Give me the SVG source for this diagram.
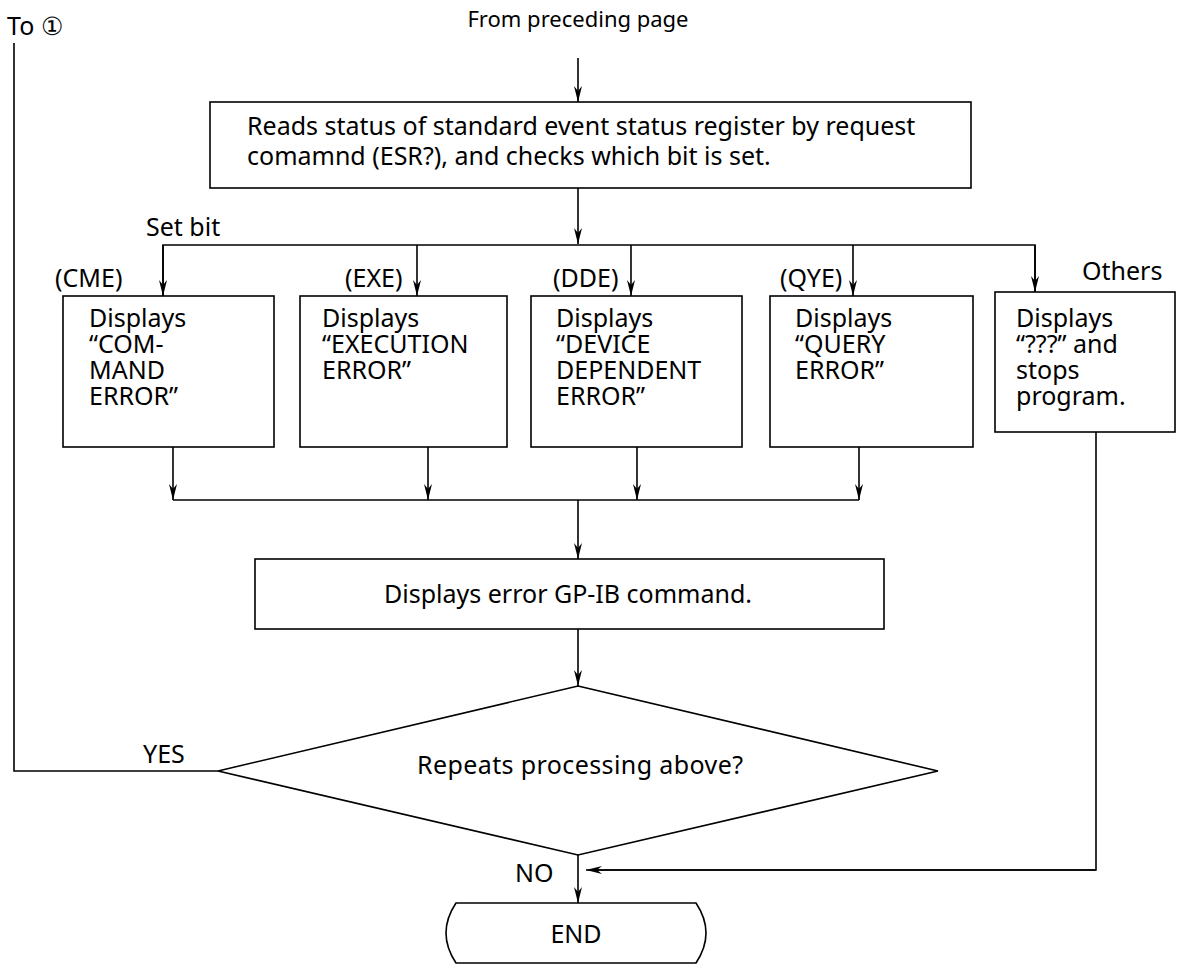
<svg xmlns="http://www.w3.org/2000/svg" width="1202" height="969" viewBox="0 0 1202 969">
<defs>
<style>
text{font-family:"Noto Sans","Open Sans",sans-serif;font-size:25px;fill:#000}
.s{font-size:22px}
.b{fill:#fff;stroke:#000;stroke-width:1.6}
.c{fill:none;stroke:#000;stroke-width:1.6}
</style>
<marker id="a" viewBox="0 0 16 8" refX="16" refY="4" markerWidth="16" markerHeight="8" markerUnits="userSpaceOnUse" orient="auto">
<path d="M0,0 L16,4 L0,8 L5,4 Z" fill="#000"/>
</marker>
</defs>
<rect width="1202" height="969" fill="#fff"/>
<g id="labels">
<text x="7" y="35">To ①</text>
<text class="s" x="578" y="27" text-anchor="middle">From preceding page</text>
<text x="146" y="236">Set bit</text>
<text x="55" y="287">(CME)</text>
<text x="345" y="287">(EXE)</text>
<text x="553" y="287">(DDE)</text>
<text x="780" y="287">(QYE)</text>
<text x="1082" y="280">Others</text>
<text x="143" y="763">YES</text>
<text x="515" y="882">NO</text>
</g>
<g id="connectors" class="c">
<line x1="578" y1="58" x2="578" y2="102" marker-end="url(#a)"/>
<line x1="578" y1="188" x2="578" y2="244" marker-end="url(#a)"/>
<polyline points="163,296 163,245 1035,245 1035,292"/>
<line x1="163" y1="245" x2="163" y2="296" marker-end="url(#a)"/>
<line x1="1035" y1="245" x2="1035" y2="292" marker-end="url(#a)"/>
<line x1="417" y1="245" x2="417" y2="296" marker-end="url(#a)"/>
<line x1="631" y1="245" x2="631" y2="296" marker-end="url(#a)"/>
<line x1="853" y1="245" x2="853" y2="296" marker-end="url(#a)"/>
<line x1="173" y1="447" x2="173" y2="500" marker-end="url(#a)"/>
<line x1="428" y1="447" x2="428" y2="500" marker-end="url(#a)"/>
<line x1="637" y1="447" x2="637" y2="500" marker-end="url(#a)"/>
<line x1="859" y1="447" x2="859" y2="500" marker-end="url(#a)"/>
<line x1="173" y1="500" x2="859" y2="500"/>
<line x1="578" y1="500" x2="578" y2="559" marker-end="url(#a)"/>
<line x1="578" y1="629" x2="578" y2="686" marker-end="url(#a)"/>
<line x1="578" y1="855" x2="578" y2="903" marker-end="url(#a)"/>
<polyline points="1096,432 1096,870 590,870"/>
<line x1="1096" y1="870" x2="586" y2="870" marker-end="url(#a)"/>
<polyline points="218,771 14,771 14,43"/>
</g>
<g id="n_read">
<rect class="b" x="210" y="102" width="761" height="86"/>
<text x="247" y="135">Reads status of standard event status register by request</text>
<text x="247" y="165">comamnd (ESR?), and checks which bit is set.</text>
</g>
<g id="n_cme">
<rect class="b" x="63" y="296" width="211" height="151"/>
<text x="89" y="327">Displays</text>
<text x="89" y="353">“COM-</text>
<text x="89" y="379">MAND</text>
<text x="89" y="405">ERROR”</text>
</g>
<g id="n_exe">
<rect class="b" x="300" y="296" width="207" height="151"/>
<text x="322" y="327">Displays</text>
<text x="322" y="353">“EXECUTION</text>
<text x="322" y="379">ERROR”</text>
</g>
<g id="n_dde">
<rect class="b" x="531" y="296" width="211" height="151"/>
<text x="556" y="327">Displays</text>
<text x="556" y="353">“DEVICE</text>
<text x="556" y="379">DEPENDENT</text>
<text x="556" y="405">ERROR”</text>
</g>
<g id="n_qye">
<rect class="b" x="770" y="296" width="203" height="151"/>
<text x="795" y="327">Displays</text>
<text x="795" y="353">“QUERY</text>
<text x="795" y="379">ERROR”</text>
</g>
<g id="n_others">
<rect class="b" x="995" y="292" width="180" height="140"/>
<text x="1016" y="327">Displays</text>
<text x="1016" y="353">“???” and</text>
<text x="1016" y="379">stops</text>
<text x="1016" y="405">program.</text>
</g>
<g id="n_gpib">
<rect class="b" x="255" y="559" width="629" height="70"/>
<text x="568" y="603" text-anchor="middle">Displays error GP-IB command.</text>
</g>
<g id="n_repeat">
<polygon class="b" points="578,686 938,771 578,855 218,771"/>
<text x="580" y="774" text-anchor="middle" textLength="326">Repeats processing above?</text>
</g>
<g id="n_end">
<path class="b" d="M456,903 H696 Q716,933 696,963 H456 Q436,933 456,903 Z"/>
<text x="576" y="943" text-anchor="middle">END</text>
</g>
</svg>
